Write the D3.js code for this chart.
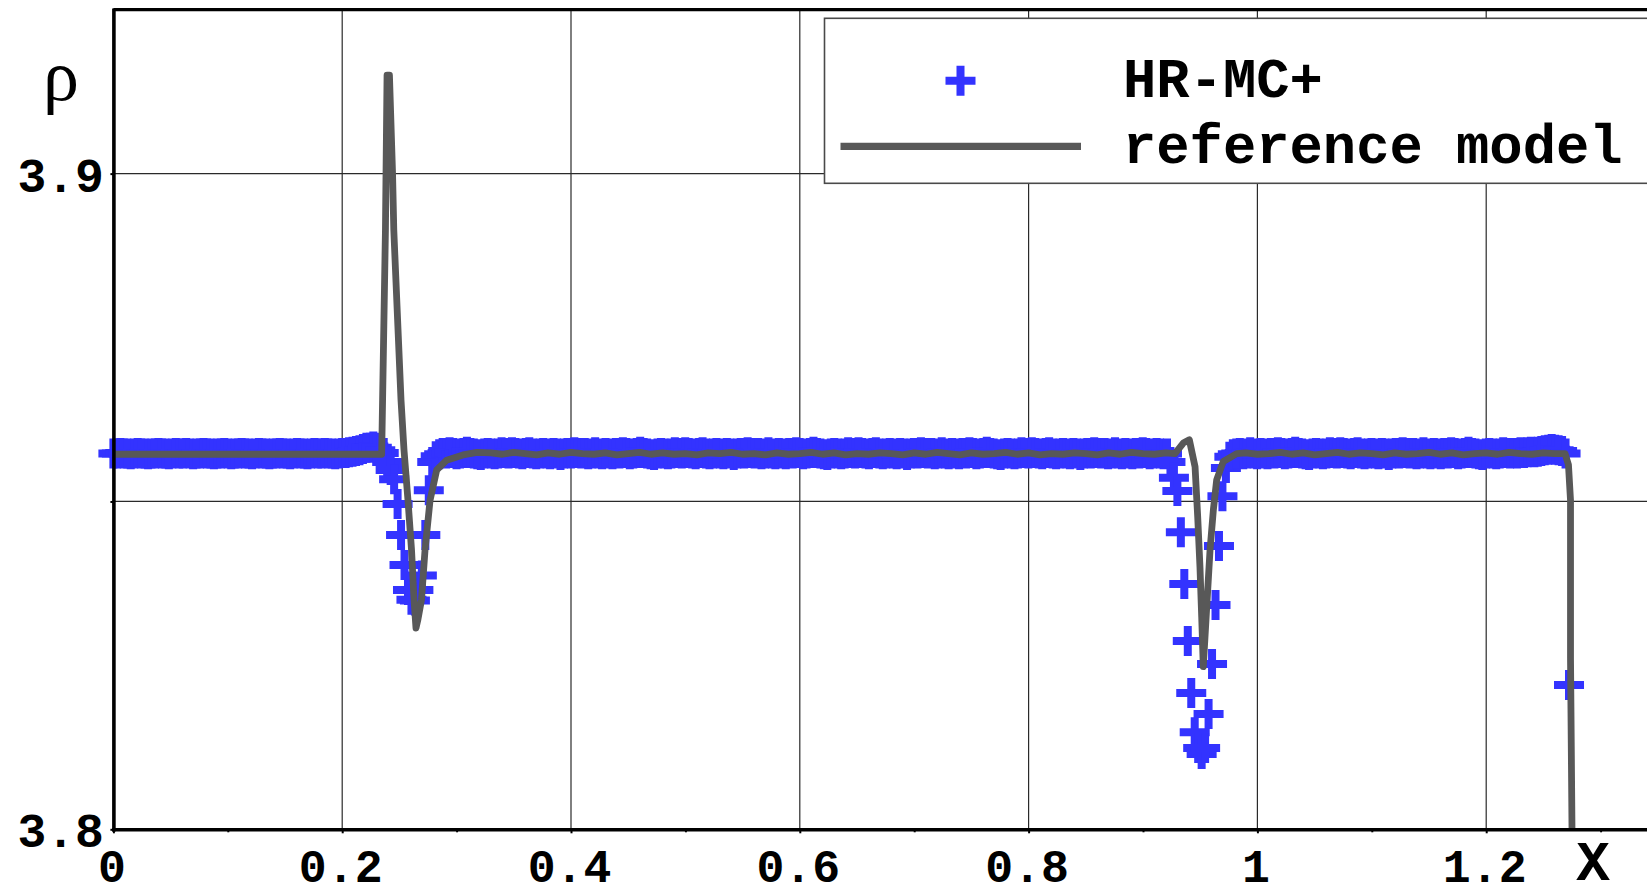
<!DOCTYPE html>
<html><head><meta charset="utf-8">
<script src="https://cdn.jsdelivr.net/npm/d3@7"></script>
<style>html,body{margin:0;padding:0;background:#fff;overflow:hidden}</style>
</head><body><svg id="chart" width="1647" height="886"></svg>
<script>
// ---------------- data ----------------
const seriesNames = ["HR-MC+", "reference model"];
const xTickValues = [0, 0.2, 0.4, 0.6, 0.8, 1, 1.2];
const xTickLabels = ["0", "0.2", "0.4", "0.6", "0.8", "1", "1.2"];
const xMinorTicks = [0.1, 0.3, 0.5, 0.7, 0.9, 1.1, 1.3];
const yTickValues = [3.8, 3.85, 3.9];
const yTickLabels = ["3.8", "", "3.9"];
const yGridValues = [3.85, 3.9];
const xAxisTitle = "X";
const yAxisTitle = "ρ";

// HR-MC+ markers: uniform mesh starting at x = 0
const markerStep = 0.0030295;
const markerValues = [
  // 0-71
  3.8573,3.8573,3.8574,3.8573,3.8573,3.8572,3.8573,3.8574,3.8573,3.8573,
  3.8572,3.8573,3.8573,3.8574,3.8573,3.8573,3.8572,3.8573,3.8574,3.8573,
  3.8573,3.8574,3.8573,3.8572,3.8573,3.8573,3.8574,3.8573,3.8573,3.8572,
  3.8573,3.8573,3.8574,3.8573,3.8572,3.8573,3.8573,3.8574,3.8573,3.8573,
  3.8572,3.8573,3.8574,3.8573,3.8573,3.8572,3.8573,3.8573,3.8574,3.8573,
  3.8573,3.8572,3.8573,3.8574,3.8573,3.8573,3.8572,3.8573,3.8574,3.8573,
  3.8573,3.8574,3.8573,3.8573,3.8572,3.8573,3.8574,3.8574,3.8575,3.8576,
  3.8577,3.8578,
  // 72-77
  3.8580,3.8582,3.8582,3.8584,3.8582,3.8578,
  // 78-94 (first dip)
  3.8574,3.8560,3.8548,3.8534,3.8496,3.8449,3.8403,3.8365,3.8350,3.8349,
  3.8365,3.8387,3.8449,3.8517,3.8560,3.8569,3.8572,
  // 95-304
  3.8574,3.8573,3.8575,3.8574,3.8572,3.8573,3.8574,3.8576,3.8574,3.8573,
  3.8572,3.8571,3.8573,3.8574,3.8573,3.8572,3.8573,3.8575,3.8574,3.8573,
  3.8575,3.8574,3.8573,3.8572,3.8574,3.8575,3.8573,3.8572,3.8573,3.8574,
  3.8573,3.8572,3.8574,3.8573,3.8571,3.8573,3.8574,3.8573,3.8575,3.8574,
  3.8573,3.8574,3.8572,3.8573,3.8575,3.8573,3.8572,3.8574,3.8573,3.8572,
  3.8574,3.8573,3.8575,3.8574,3.8572,3.8573,3.8574,3.8576,3.8574,3.8573,
  3.8572,3.8571,3.8573,3.8574,3.8573,3.8572,3.8573,3.8575,3.8574,3.8573,
  3.8575,3.8574,3.8573,3.8572,3.8574,3.8575,3.8573,3.8572,3.8573,3.8574,
  3.8573,3.8572,3.8574,3.8573,3.8571,3.8573,3.8574,3.8573,3.8575,3.8574,
  3.8573,3.8574,3.8572,3.8573,3.8575,3.8573,3.8572,3.8574,3.8573,3.8572,
  3.8574,3.8573,3.8575,3.8574,3.8572,3.8573,3.8574,3.8576,3.8574,3.8573,
  3.8572,3.8571,3.8573,3.8574,3.8573,3.8572,3.8573,3.8575,3.8574,3.8573,
  3.8575,3.8574,3.8573,3.8572,3.8574,3.8575,3.8573,3.8572,3.8573,3.8574,
  3.8573,3.8572,3.8574,3.8573,3.8571,3.8573,3.8574,3.8573,3.8575,3.8574,
  3.8573,3.8574,3.8572,3.8573,3.8575,3.8573,3.8572,3.8574,3.8573,3.8572,
  3.8574,3.8573,3.8575,3.8574,3.8572,3.8573,3.8574,3.8576,3.8574,3.8573,
  3.8572,3.8571,3.8573,3.8574,3.8573,3.8572,3.8573,3.8575,3.8574,3.8573,
  3.8575,3.8574,3.8573,3.8572,3.8574,3.8575,3.8573,3.8572,3.8573,3.8574,
  3.8573,3.8572,3.8574,3.8573,3.8571,3.8573,3.8574,3.8573,3.8575,3.8574,
  3.8573,3.8574,3.8572,3.8573,3.8575,3.8573,3.8572,3.8574,3.8573,3.8572,
  3.8574,3.8573,3.8575,3.8574,3.8572,3.8573,3.8574,3.8573,3.8572,3.8573,
  // 305-323 (second dip)
  3.8560,3.8536,3.8516,3.8453,3.8374,3.8287,3.8208,3.8148,3.8124,3.8115,
  3.8124,3.8176,3.8252,3.8342,3.8432,3.8508,3.8551,3.8568,3.8572,
  // 324-412
  3.8573,3.8574,3.8572,3.8573,3.8575,3.8573,3.8572,3.8574,3.8573,3.8572,
  3.8574,3.8573,3.8575,3.8574,3.8572,3.8573,3.8574,3.8576,3.8574,3.8573,
  3.8572,3.8571,3.8573,3.8574,3.8573,3.8572,3.8573,3.8575,3.8574,3.8573,
  3.8575,3.8574,3.8573,3.8572,3.8574,3.8575,3.8573,3.8572,3.8573,3.8574,
  3.8573,3.8572,3.8574,3.8573,3.8571,3.8573,3.8574,3.8573,3.8575,3.8574,
  3.8573,3.8574,3.8572,3.8573,3.8575,3.8573,3.8572,3.8574,3.8573,3.8572,
  3.8574,3.8573,3.8575,3.8574,3.8572,3.8573,3.8574,3.8576,3.8574,3.8573,
  3.8572,3.8571,3.8573,3.8574,3.8573,3.8572,3.8573,3.8575,3.8574,3.8573,
  3.8574,3.8573,3.8575,3.8574,3.8575,3.8576,3.8575,3.8576,3.8577,
  // 413-420
  3.8578,3.8579,3.8580,3.8579,3.8578,3.8577,3.8573,3.8220
];

// reference model line
const lineX = [
  0, 0.10, 0.2330, 0.2345, 0.2378, 0.2383, 0.2392, 0.2413, 0.2440, 0.2451,
  0.2514, 0.2540, 0.2575, 0.2606, 0.2628, 0.2645, 0.2662, 0.2693, 0.2724, 0.2768,
  0.2826, 0.2913, 0.3056, 0.3178,
  0.33, 0.34, 0.35, 0.36, 0.37, 0.38, 0.39, 0.40, 0.41, 0.42,
  0.43, 0.44, 0.45, 0.46, 0.47, 0.48, 0.49, 0.50, 0.51, 0.52,
  0.53, 0.54, 0.55, 0.56, 0.57, 0.58, 0.59, 0.60, 0.61, 0.62,
  0.63, 0.64, 0.65, 0.66, 0.67, 0.68, 0.69, 0.70, 0.71, 0.72,
  0.73, 0.74, 0.75, 0.76, 0.77, 0.78, 0.79, 0.80, 0.81, 0.82,
  0.83, 0.84, 0.85, 0.86, 0.87, 0.88, 0.89, 0.90, 0.91, 0.92,
  0.9279, 0.9352, 0.9405, 0.9455, 0.9478, 0.9498, 0.9513, 0.9527, 0.9557, 0.9586,
  0.9615, 0.9644, 0.9702, 0.9819,
  0.99, 1.00, 1.01, 1.02, 1.03, 1.04, 1.05, 1.06, 1.07, 1.08,
  1.09, 1.10, 1.11, 1.12, 1.13, 1.14, 1.15, 1.16, 1.17, 1.18,
  1.19, 1.20, 1.21, 1.22, 1.23, 1.24, 1.25, 1.26,
  1.2689, 1.2719, 1.2737, 1.2737, 1.2750, 1.2750
];
const lineY = [
  3.8572, 3.8572, 3.8572, 3.8572, 3.8914, 3.9001, 3.9150, 3.9150, 3.9001, 3.8914,
  3.8655, 3.8579, 3.8502, 3.8426, 3.8350, 3.8307, 3.8320, 3.8350, 3.8426, 3.8502,
  3.8548, 3.8563, 3.8571, 3.8575,
  3.8574, 3.8572, 3.8575, 3.8573, 3.8571, 3.8574, 3.8572, 3.8575, 3.8573, 3.8572,
  3.8574, 3.8571, 3.8573, 3.8575, 3.8572, 3.8574, 3.8572, 3.8573, 3.8571, 3.8574,
  3.8573, 3.8575, 3.8572, 3.8573, 3.8571, 3.8574, 3.8572, 3.8573, 3.8575, 3.8572,
  3.8574, 3.8571, 3.8573, 3.8572, 3.8574, 3.8573, 3.8571, 3.8574, 3.8572, 3.8575,
  3.8573, 3.8571, 3.8574, 3.8572, 3.8573, 3.8575, 3.8572, 3.8574, 3.8571, 3.8573,
  3.8572, 3.8574, 3.8573, 3.8571, 3.8574, 3.8572, 3.8575, 3.8573, 3.8572, 3.8574,
  3.8573, 3.8589, 3.8594, 3.8553, 3.8477, 3.8400, 3.8324, 3.8248, 3.8339, 3.8426,
  3.8487, 3.8533, 3.8561, 3.8573,
  3.8574, 3.8572, 3.8573, 3.8575, 3.8572, 3.8574, 3.8571, 3.8573, 3.8575, 3.8572,
  3.8574, 3.8573, 3.8571, 3.8574, 3.8572, 3.8573, 3.8575, 3.8572, 3.8574, 3.8571,
  3.8573, 3.8574, 3.8572, 3.8575, 3.8573, 3.8572, 3.8574, 3.8573,
  3.8573, 3.8556, 3.8502, 3.8261, 3.8000, 3.7960
];

// ---------------- drawing ----------------
const W = 1647, H = 886;
const plotLeft = 113.4, plotBottom = 829.3, plotTop = 9.7, pxPerUnit = 1144;
const xMax = (W - plotLeft) / pxPerUnit;
const x = d3.scaleLinear().domain([0, xMax]).range([plotLeft, W]);
const y = d3.scaleLinear().domain([3.8, 3.925]).range([plotBottom, plotTop]);

const blue = "#3333ff", gray = "#585858";
const monoFont = "'Liberation Mono', 'Courier New', monospace";

const svg = d3.select("#chart");
svg.append("rect").attr("width", W).attr("height", H).attr("fill", "#fff");

// grid
const grid = svg.append("g").attr("stroke", "#2a2a2a").attr("stroke-width", 1.2);
grid.selectAll("line.v").data(xTickValues.filter(d => d > 0)).enter().append("line")
  .attr("x1", d => x(d)).attr("x2", d => x(d)).attr("y1", plotTop).attr("y2", plotBottom);
grid.selectAll("line.h").data(yGridValues).enter().append("line")
  .attr("x1", plotLeft).attr("x2", W).attr("y1", d => y(d)).attr("y2", d => y(d));

// markers
const markers = markerValues.map((v, i) => ({x: i * markerStep, y: v}));
svg.append("g").selectAll("path").data(markers).enter().append("path")
  .attr("d", d => `M${x(d.x) - 15},${y(d.y)}h30M${x(d.x)},${y(d.y) - 15}v30`)
  .attr("stroke", blue).attr("stroke-width", 8).attr("fill", "none");

// reference line (clipped to plot)
svg.append("clipPath").attr("id", "plotclip").append("rect")
  .attr("x", plotLeft).attr("y", plotTop).attr("width", W - plotLeft).attr("height", plotBottom - plotTop);
const linePts = lineX.map((v, i) => [v, lineY[i]]);
svg.append("path").datum(linePts)
  .attr("clip-path", "url(#plotclip)")
  .attr("d", d3.line().x(d => x(d[0])).y(d => y(d[1])))
  .attr("fill", "none").attr("stroke", gray).attr("stroke-width", 6.8)
  .attr("stroke-linejoin", "round");

// axes
const xAxisG = svg.append("g").attr("transform", `translate(0,${plotBottom})`)
  .call(d3.axisBottom(x).tickValues(xTickValues).tickFormat((d, i) => xTickLabels[i]).tickSize(4).tickSizeOuter(0));
svg.append("g").attr("transform", `translate(0,${plotBottom})`)
  .call(d3.axisBottom(x).tickValues(xMinorTicks).tickFormat("").tickSize(3).tickSizeOuter(0))
  .call(g => g.select(".domain").remove());
const yAxisG = svg.append("g").attr("transform", `translate(${plotLeft},0)`)
  .call(d3.axisLeft(y).tickValues(yTickValues).tickFormat((d, i) => yTickLabels[i]).tickSize(3).tickSizeOuter(0));

svg.selectAll(".domain").attr("stroke", "#000").attr("stroke-width", 3.6).attr("stroke-linecap", "square");
svg.selectAll(".tick line").attr("stroke", "#000").attr("stroke-width", 2);
xAxisG.selectAll("text").attr("y", 52.7).attr("dy", null).attr("dx", -2)
  .attr("font-family", monoFont).attr("font-weight", "bold").attr("font-size", 46.5).attr("fill", "#000");
yAxisG.selectAll("text").attr("x", -9.5).attr("dy", null).attr("y", 17.5)
  .attr("font-family", monoFont).attr("font-weight", "bold").attr("font-size", 48).attr("fill", "#000");

// top border
svg.append("line").attr("x1", plotLeft).attr("x2", W).attr("y1", plotTop).attr("y2", plotTop)
  .attr("stroke", "#000").attr("stroke-width", 3.2);

// axis titles
svg.append("text").text(yAxisTitle).attr("x", 61).attr("y", 100).attr("text-anchor", "middle")
  .attr("font-family", "'Liberation Serif', serif").attr("font-size", 72).attr("fill", "#000");
svg.append("text").text(xAxisTitle).attr("x", 1593).attr("y", 880).attr("text-anchor", "middle")
  .attr("font-family", monoFont).attr("font-weight", "bold").attr("font-size", 56).attr("fill", "#000");

// legend
const lg = svg.append("g");
lg.append("rect").attr("x", 824.5).attr("y", 18.3).attr("width", W - 824.5 + 20).attr("height", 165)
  .attr("fill", "#fff").attr("stroke", "#4a4a4a").attr("stroke-width", 1.6);
lg.append("path").attr("d", `M${960.5 - 15},80.7h30M960.5,${80.7 - 15}v30`)
  .attr("stroke", blue).attr("stroke-width", 8).attr("fill", "none");
lg.append("line").attr("x1", 840.5).attr("x2", 1081).attr("y1", 146.3).attr("y2", 146.3)
  .attr("stroke", gray).attr("stroke-width", 7.3);
lg.selectAll("text").data(seriesNames).enter().append("text")
  .text(d => d).attr("x", 1123).attr("y", (d, i) => i === 0 ? 96.7 : 163.3)
  .attr("font-family", monoFont).attr("font-weight", "bold").attr("font-size", 55.5).attr("fill", "#000");
</script>
</body></html>
